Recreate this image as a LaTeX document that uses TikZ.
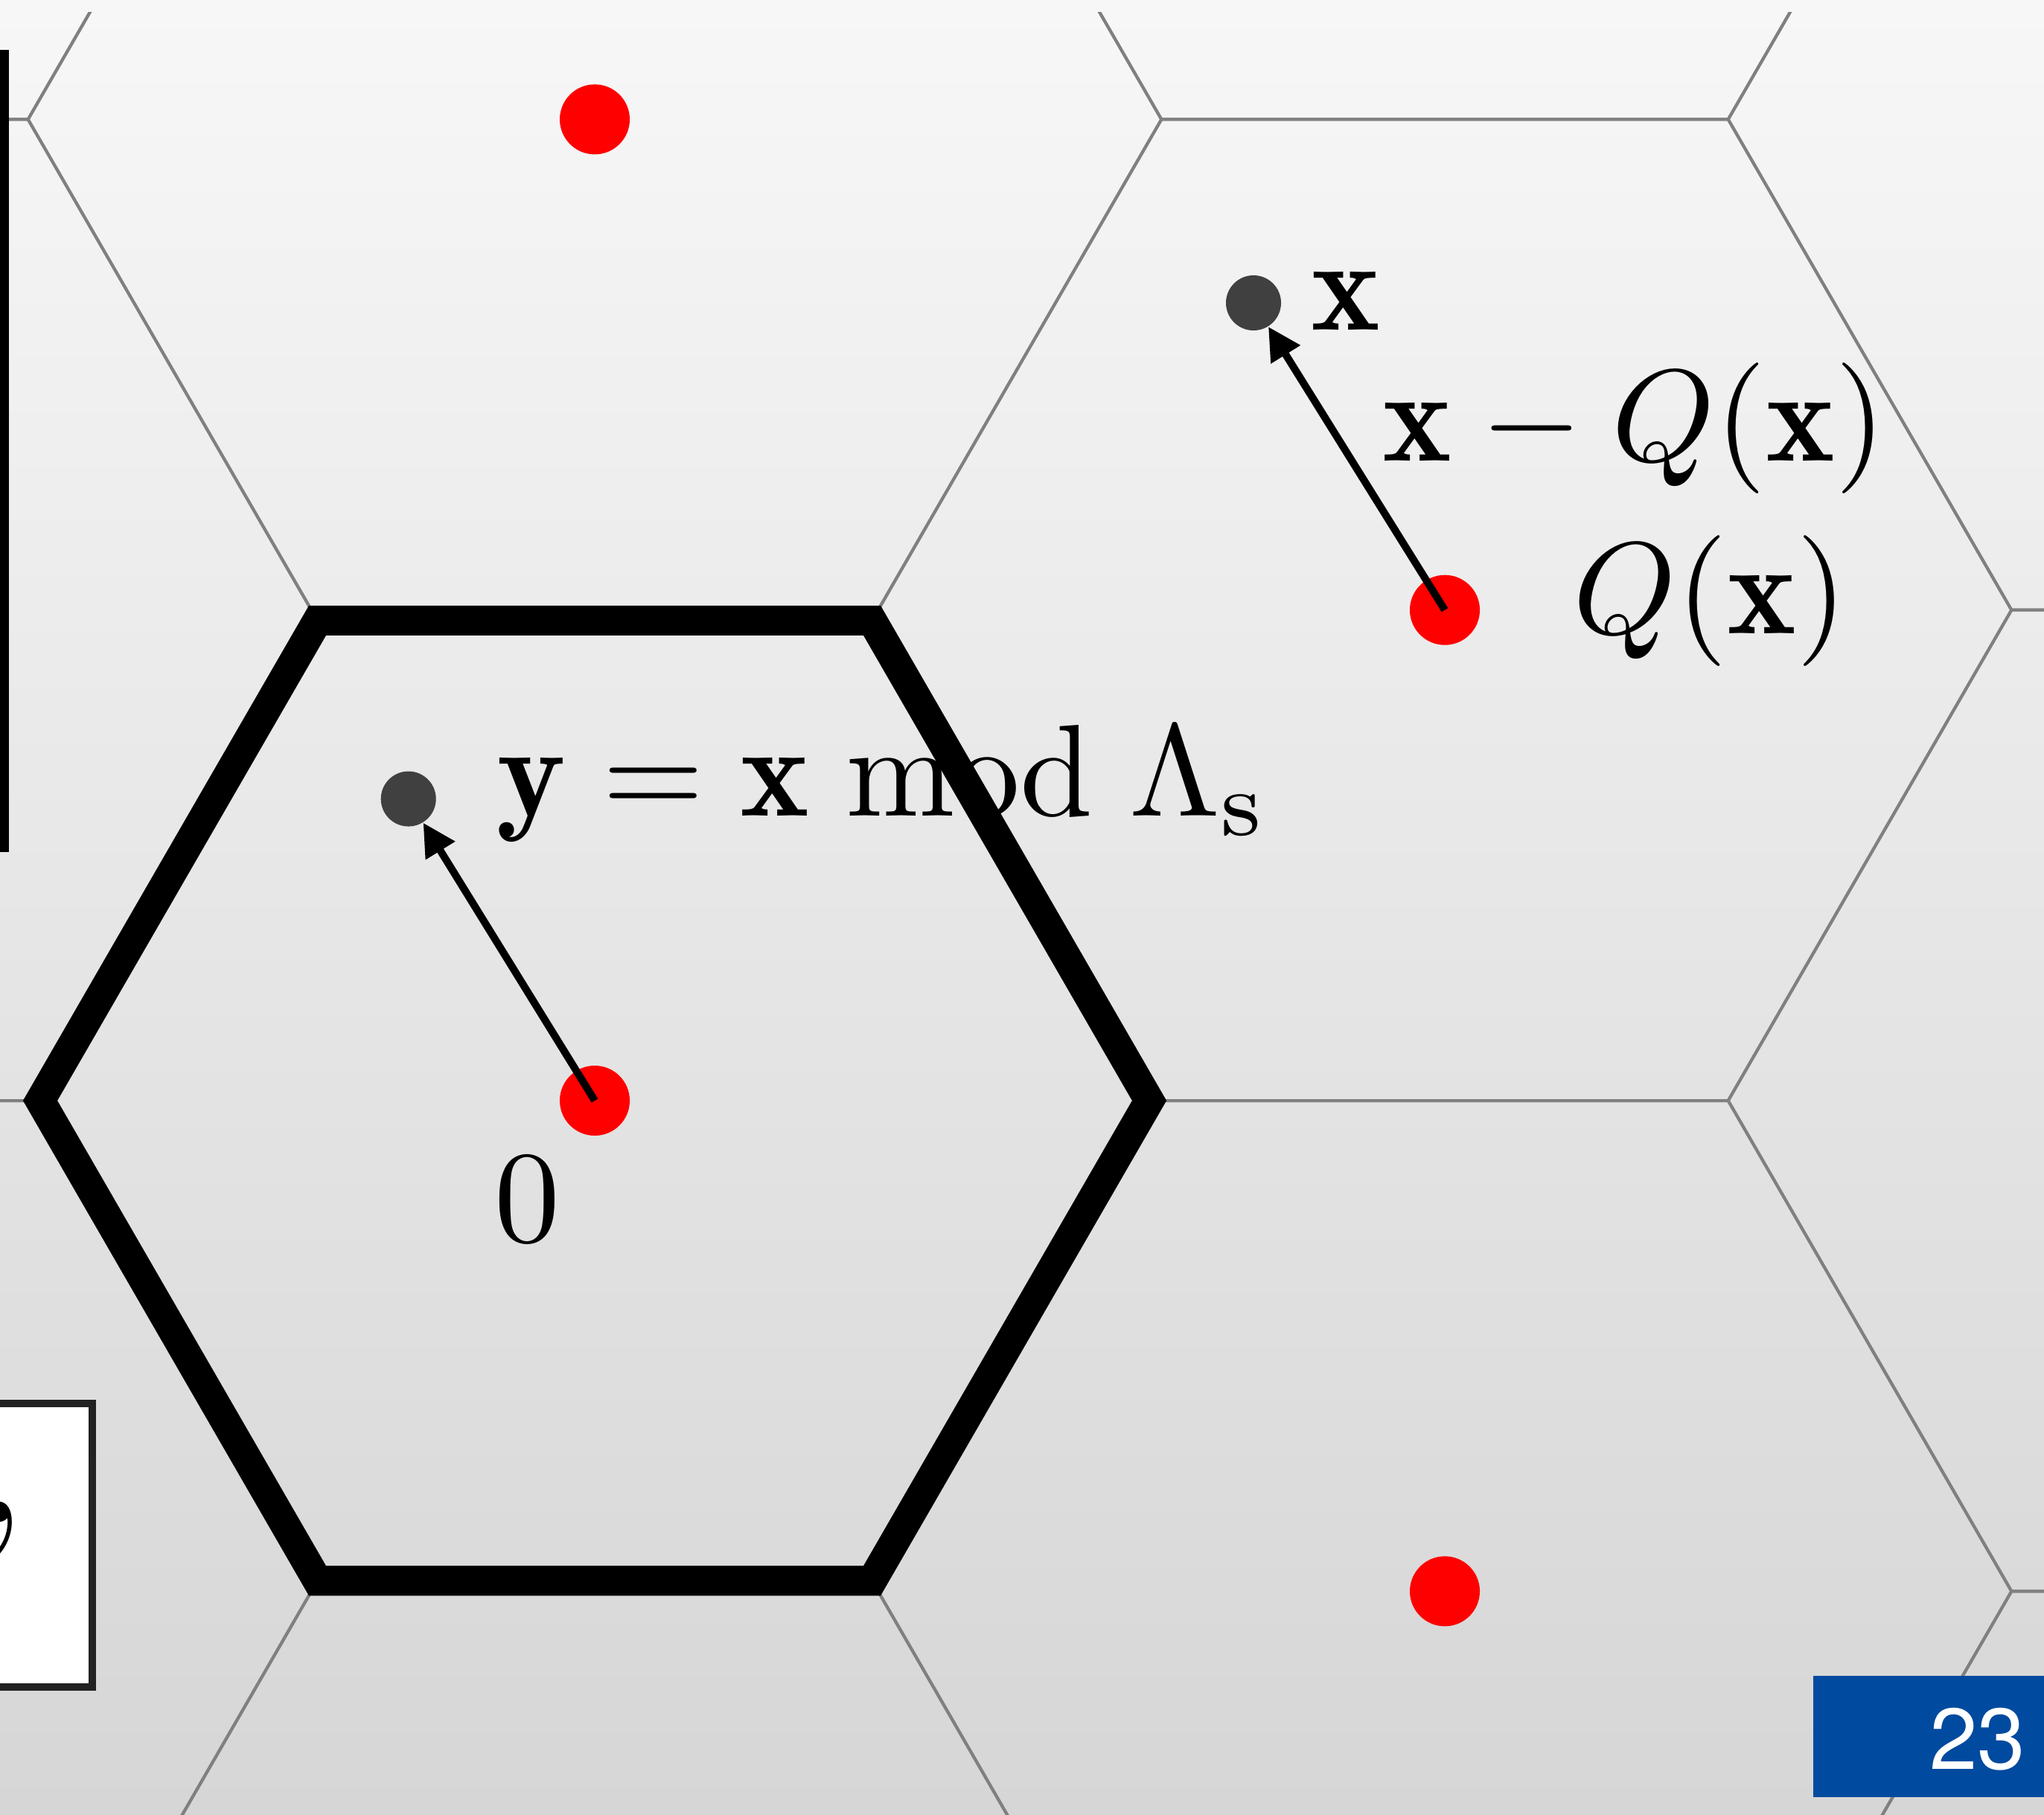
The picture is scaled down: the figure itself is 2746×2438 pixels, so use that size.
\RequirePackage{fix-cm}
\documentclass[tikz,border=0pt]{standalone}
\usepackage{amsmath}
\usepackage{fontspec}
\newfontfamily\heros{TeX Gyre Heros}
\usetikzlibrary{arrows.meta}
\definecolor{gridgray}{RGB}{128,128,128}
\definecolor{bgtop}{RGB}{247,247,247}
\definecolor{bgbot}{RGB}{214,214,214}
\definecolor{dotgray}{RGB}{64,64,64}
\definecolor{slideblue}{RGB}{0,74,159}
\definecolor{boxborder}{RGB}{34,34,34}
\begin{document}
\begin{tikzpicture}[x=0.01cm,y=-0.01cm,
  gridline/.style={draw=gridgray,line width=0.04cm},
  cellhex/.style={draw=black,line width=0.40cm,line join=miter},
  latpt/.style={circle,fill=red,inner sep=0,minimum size=0.94cm},
  datapt/.style={circle,fill=dotgray,inner sep=0,minimum size=0.74cm},
  vecarrow/.style={-{Triangle[length=0.44cm,width=0.44cm]},line width=0.10cm},
  lbl/.style={inner sep=0,scale=5,font=\fontsize{10}{12}\selectfont},
]
\useasboundingbox (0,0) rectangle (2746,2438);
\shade[top color=bgtop,bottom color=bgbot] (0,0) rectangle (2746,2438);
% hexagonal grid
\begin{scope}
\clip (0,16) rectangle (2746,2438);
\foreach \i in {-1,0,1,2} {
  \foreach \j in {-2,...,2} {
    \pgfmathsetmacro{\cx}{799+1142*\i}
    \pgfmathsetmacro{\cy}{1479-659.3*\i+1318.6*\j}
    \draw[gridline] (\cx+761.3,\cy) -- ++(120:761.3) -- ++(180:761.3) -- ++(240:761.3) -- ++(300:761.3) -- ++(0:761.3) -- cycle;
  }
}
\end{scope}
% Voronoi cell of the origin
\draw[cellhex] (799+745,1479) -- ++(120:745) -- ++(180:745) -- ++(240:745) -- ++(300:745) -- ++(0:745) -- cycle;
% lattice points
\node[latpt] (c0) at (799,1479) {};
\node[latpt] (c1) at (1941,819.7) {};
\node[latpt] (c2) at (799,160.4) {};
\node[latpt] (c3) at (1941,2138.3) {};
% data points
\node[datapt] (xpt) at (1684,407) {};
\node[datapt] (ypt) at (548.7,1073.5) {};
% vectors
\draw[vecarrow] (c1.center) -- (xpt);
\draw[vecarrow] (c0.center) -- (ypt);
% labels
\node[lbl,anchor=base west] (xlbl) at (1758,443.5) {$\mathbf{x}$};
\node[lbl,anchor=base west] (difflbl) at (1854,619) {$\mathbf{x}-Q(\mathbf{x})$};
\node[lbl,anchor=base west] (qlbl) at (2110,851) {$Q(\mathbf{x})$};
\node[lbl,anchor=base west] (ylbl) at (664,1096) {$\mathbf{y}=\mathbf{x}\bmod\Lambda_{\mathrm{s}}$};
\node[lbl,anchor=base] (zlbl) at (708,1668) {$0$};
% left bar
\fill[black] (0,67) rectangle (12,1145);
% white box at bottom left
\filldraw[fill=white,draw=boxborder,line width=0.1cm] (-50,1886) rectangle (124,2267);
\begin{scope}
\clip (0,1891) rectangle (119,2262);
\node[inner sep=0,anchor=base west,scale=7.3,font=\fontsize{10}{12}\selectfont] (qmark) at (-42,2196) {’};
\end{scope}
% page number box
\fill[slideblue] (2436,2252) rectangle (2746,2415);
\node[anchor=base east,inner sep=0,text=white,font=\heros\fontsize{33}{40}\selectfont] (pagenum) at (2722,2377) {23};
\end{tikzpicture}
\end{document}
